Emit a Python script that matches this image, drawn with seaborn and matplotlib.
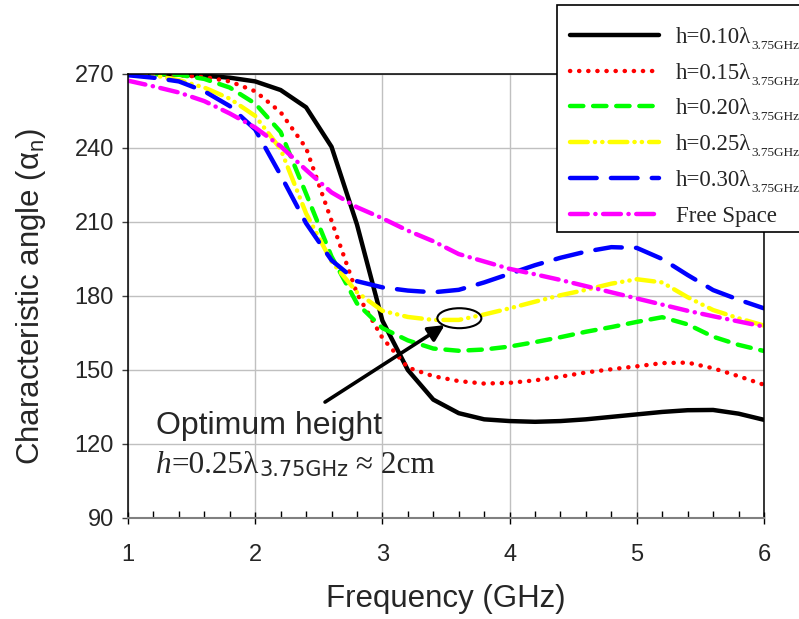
import matplotlib
matplotlib.use("Agg")
import matplotlib.pyplot as plt
from matplotlib.patches import Ellipse, Rectangle
from matplotlib.ticker import MultipleLocator
import pandas as pd
import seaborn as sns

# Frequency sweep (GHz)
freq_ghz = [1.0, 1.2, 1.4, 1.6, 1.8, 2.0, 2.2, 2.4, 2.6, 2.8, 3.0, 3.2, 3.4,
            3.6, 3.8, 4.0, 4.2, 4.4, 4.6, 4.8, 5.0, 5.2, 5.4, 5.6, 5.8, 6.0]

# Characteristic angle (degrees) for each antenna height above ground
alpha_h010 = [270, 270, 269.8, 269.3, 268.5, 267, 263.5, 256.5, 240.5, 209, 170, 150, 138,
              132.5, 130, 129.3, 129, 129.3, 130, 131, 132, 133, 133.7, 133.8, 132.3, 129.8]
alpha_h015 = [270, 270, 269.5, 268.8, 267, 263, 254.5, 240, 210.5, 181, 163, 151, 147.5,
              145.5, 144.5, 144.8, 145.8, 147.3, 149, 150.3, 151.5, 152.8, 153, 150.7, 147.5, 144]
alpha_h020 = [270, 270, 269.7, 268, 264.5, 258, 246.5, 221.5, 196, 177, 167, 162, 158.7,
              157.8, 158.3, 159.5, 161.3, 163.3, 165.5, 167.4, 169.5, 171.4, 168.5, 163.5, 160.2, 157.7]
alpha_h025 = [270, 269.5, 267.5, 264.5, 260, 253, 239.5, 213.5, 194, 181.5, 174, 171.5, 170.3,
              170.3, 172.5, 175, 177.7, 180.3, 182.5, 185, 186.8, 185.5, 179.5, 174.3, 171, 168]
alpha_h030 = [269.5, 268.5, 267, 263, 257, 247.5, 229, 209.5, 194.5, 186, 183.5, 182.2, 181.5,
              182.5, 185.5, 189, 192.5, 195.5, 198, 199.8, 199.5, 195, 188.5, 182.4, 178.5, 175]
alpha_free = [267.3, 265, 262.5, 259, 254, 248.3, 240.7, 231.1, 222, 216, 211.5, 206.5, 202.2,
              197, 194, 191, 188.8, 186.5, 184, 181.5, 179, 176.5, 174, 171.8, 169.7, 167.6]

# Legend entries: main label and its subscript
series_names = ["h=0.10λ", "h=0.15λ", "h=0.20λ", "h=0.25λ", "h=0.30λ", "Free Space"]
series_subs = ["3.75GHz", "3.75GHz", "3.75GHz", "3.75GHz", "3.75GHz", ""]
series_values = [alpha_h010, alpha_h015, alpha_h020, alpha_h025, alpha_h030, alpha_free]
series_colors = ["#000000", "#ff0000", "#00ff00", "#ffff00", "#0000ff", "#ff00ff"]
series_dashes = ["", (0.05, 2.0), (3.0, 2.2), (4.0, 1.6, 0.05, 1.6, 0.05, 1.6),
                 (6.0, 3.2), (4.0, 1.7, 0.05, 1.7)]

sns.set_theme(style="white")
plt.rcParams["font.family"] = ["Liberation Sans", "DejaVu Sans"]

df = pd.DataFrame({
    "freq": freq_ghz * len(series_names),
    "alpha": [v for vals in series_values for v in vals],
    "series": [lab for lab in series_names for _ in freq_ghz],
})

W, H = 799, 619
fig = plt.figure(figsize=(W / 100, H / 100), dpi=100)
ax = fig.add_axes([128 / W, 1 - 518 / H, (764 - 128) / W, (518 - 74) / H])

sns.lineplot(data=df, x="freq", y="alpha", hue="series", style="series",
             hue_order=series_names, style_order=series_names,
             palette=dict(zip(series_names, series_colors)),
             dashes=dict(zip(series_names, series_dashes)),
             linewidth=3.2, legend=False, sort=False, ax=ax)
for ln in ax.lines:
    ln.set_dash_capstyle("round")

ax.set_xlim(1, 6)
ax.set_ylim(90, 270)
ax.xaxis.set_major_locator(MultipleLocator(1))
ax.xaxis.set_minor_locator(MultipleLocator(0.2))
ax.yaxis.set_major_locator(MultipleLocator(30))
ax.grid(True, which="major", color="#c0c0c0", linewidth=1.0)
ax.set_axisbelow(True)

for side in ["left", "top", "right"]:
    ax.spines[side].set_color("black")
    ax.spines[side].set_linewidth(1.1)
ax.spines["bottom"].set_color("#808080")
ax.spines["bottom"].set_linewidth(1.5)

ax.tick_params(axis="x", which="major", direction="inout", length=9, width=1.0,
               color="black", labelsize=17, pad=14, bottom=True)
ax.tick_params(axis="x", which="minor", direction="in", length=5, width=1.0,
               color="black", bottom=True)
ax.tick_params(axis="y", which="major", direction="out", length=4, width=1.0,
               color="#404040", labelsize=17, pad=6, left=True)

ax.set_xlabel("Frequency (GHz)", fontsize=22.5, labelpad=13)
ax.set_ylabel(r"Characteristic angle ($\mathregular{\alpha_n}$)", fontsize=22.5, labelpad=19)

# Marked optimum on the h = 0.25 curve
ax.add_patch(Ellipse((3.605, 171.0), 0.346, 8.1, fill=False, edgecolor="black",
                     linewidth=1.5, zorder=5))
ax.annotate("", xy=(3.49, 168.2), xytext=(2.549, 137.0),
            arrowprops=dict(arrowstyle="-|>", color="black", lw=2.6,
                            mutation_scale=24, shrinkA=0, shrinkB=0), zorder=6)

# Legend box, running off the right edge of the figure
fig.add_artist(Rectangle((557 / W, 1 - 232 / H), (840 - 557) / W, (232 - 5) / H,
                         transform=fig.transFigure, facecolor="white",
                         edgecolor="black", linewidth=1.2, zorder=4))

legend_font = {"family": "Liberation Serif", "size": 16.5}
leg = fig.legend(handles=ax.lines[:len(series_names)], labels=series_names,
                 loc="upper left", bbox_to_anchor=(553 / W, 1 - 10.5 / H),
                 borderaxespad=0, prop=legend_font, frameon=False,
                 handlelength=3.9, handletextpad=0.75, labelspacing=0.64,
                 borderpad=0.72)
leg.set_zorder(5)

fig.canvas.draw()
renderer = fig.canvas.get_renderer()

# Subscripts after each legend label
for txt, sub in zip(leg.get_texts(), series_subs):
    if not sub:
        continue
    bb = txt.get_window_extent(renderer)
    fig.text(bb.x1 / W, (bb.y0 - 1) / H, sub, ha="left", va="baseline",
             family="Liberation Serif", fontsize=9.5, zorder=20)


def draw_runs(x_px, y_px, runs):
    """Draw consecutive text pieces on one baseline, in pixel coordinates."""
    x = x_px
    for s, props, dy in runs:
        t = fig.text(x / W, 1 - (y_px + dy) / H, s, ha="left", va="baseline", **props)
        x = t.get_window_extent(renderer).x1


draw_runs(156, 434, [("Optimum height", dict(fontsize=23, family="Liberation Sans"), 0)])
serif = dict(fontsize=22.5, family="Liberation Serif")
draw_runs(156, 473, [
    ("h", dict(fontsize=22.5, family="Liberation Serif", style="italic"), 0),
    ("=0.25λ", serif, 0),
    ("3.75GHz", dict(fontsize=15, family="DejaVu Sans"), 3),
    (" ≈ 2cm", serif, 0),
])

fig.savefig("out.png", dpi=100)
